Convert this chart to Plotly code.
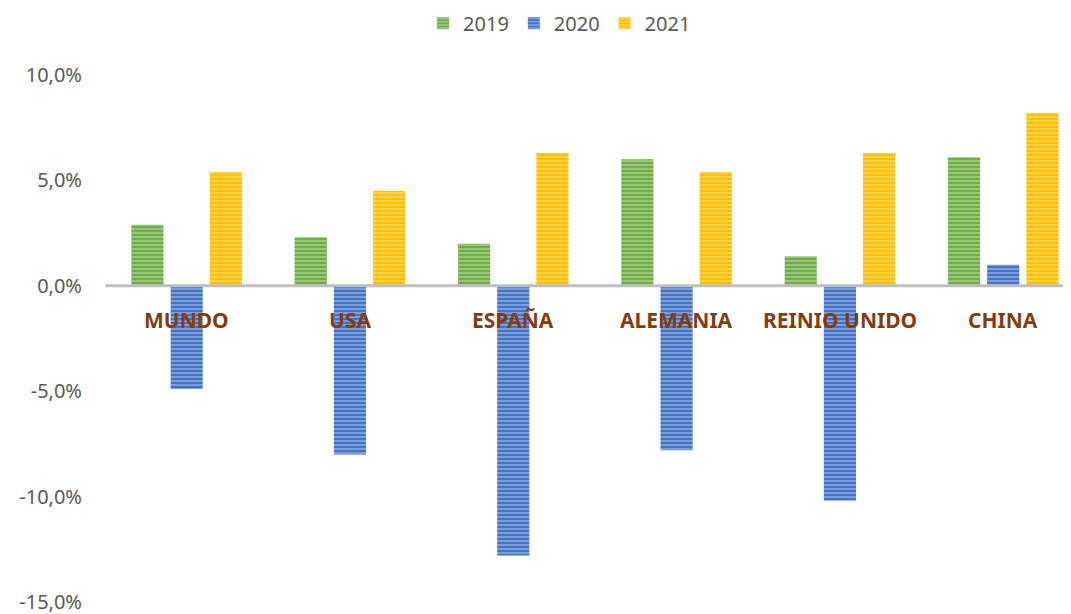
import plotly.graph_objects as go

# %% Data (growth rates, %)
paises = ['MUNDO', 'USA', 'ESPAÑA', 'ALEMANIA', 'REINIO UNIDO', 'CHINA']
anios = ['2019', '2020', '2021']
v2019 = [2.9, 2.3, 2.0, 6.0, 1.4, 6.1]
v2020 = [-4.9, -8.0, -12.8, -7.8, -10.2, 1.0]
v2021 = [5.4, 4.5, 6.3, 5.4, 6.3, 8.2]

tick_vals = [-15, -10, -5, 0, 5, 10]
tick_text = ['-15,0%', '-10,0%', '-5,0%', '0,0%', '5,0%', '10,0%']

series = [v2019, v2020, v2021]
colores = ['#70AD47', '#4472C4', '#FFC000']
rayas = ['#D4EAC6', '#D3DEF3', '#FFEDB3']

# %% Figure
fig = go.Figure()
for nombre, vals, col, raya in zip(anios, series, colores, rayas):
    fig.add_trace(go.Bar(
        name=nombre,
        x=paises,
        y=vals,
        marker=dict(
            color=col,
            line=dict(width=0),
            pattern=dict(shape='-', fgcolor=raya, size=4, solidity=0.4),
        ),
        hoverinfo='skip',
    ))

# category labels sit just under the zero line, over the bars
for p in paises:
    fig.add_annotation(
        x=p, y=0, text=p, showarrow=False,
        yanchor='middle', yshift=-34,
        font=dict(family='Noto Sans', size=21, color='#843C0C', weight='bold'),
    )

fig.add_shape(type='line', xref='paper', yref='y', x0=0, x1=1, y0=0, y1=0,
              line=dict(color='#BFBFBF', width=3), layer='above')

# page body has an 8px default margin, so margins are offset by 8
fig.update_layout(
    width=1071, height=614,
    paper_bgcolor='white', plot_bgcolor='white',
    barmode='group', bargap=0.28, bargroupgap=0.18,
    margin=dict(l=97, r=8, t=67, b=20, autoexpand=False),
    font=dict(family='Noto Sans', color='#595959'),
    legend=dict(orientation='h', x=0.515, xref='container', xanchor='center',
                y=0.975, yref='container', yanchor='middle',
                font=dict(size=20, color='#595959'),
                itemwidth=30, traceorder='normal'),
    xaxis=dict(range=[-0.5, 5.415], showticklabels=False, showgrid=False,
               zeroline=False, showline=False, ticks=''),
    yaxis=dict(range=[-15, 10], tickvals=tick_vals, ticktext=tick_text,
               showgrid=False, zeroline=False, showline=False, automargin=False,
               tickfont=dict(size=20, color='#595959'), ticklabelstandoff=22),
)

fig.write_html('out.html')
